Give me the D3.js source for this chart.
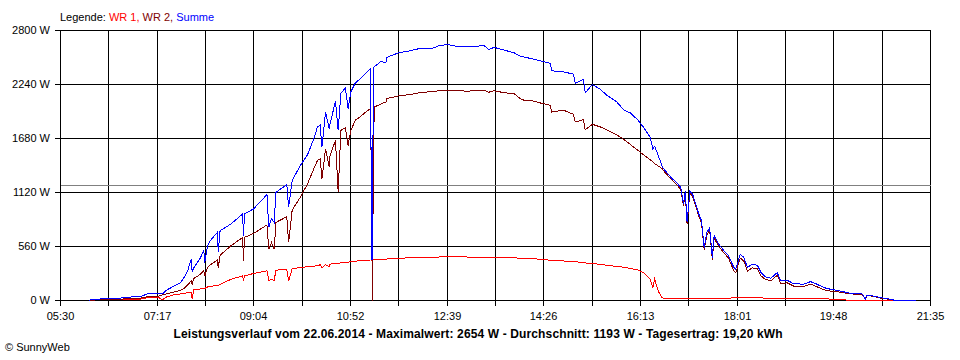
<!DOCTYPE html>
<html><head><meta charset="utf-8">
<script src="https://cdn.jsdelivr.net/npm/d3@7"></script>
<style>
html,body{margin:0;padding:0;background:#fff;}
svg{display:block;font-family:"Liberation Sans",Arial,sans-serif;}
</style></head><body>
<svg id="c" width="960" height="360"></svg>
<script>
// ---- data ----
const times = ["06:02","06:03","06:14","06:25","06:37","06:48","06:59","07:06","07:19","07:23","07:28","07:36","07:43","07:47","07:51","07:55","07:56","07:58","08:05","08:09","08:10","08:13","08:16","08:24","08:25","08:27","08:39","08:52","08:53","08:54","09:04","09:19","09:21","09:24","09:27","09:29","09:41","09:43","09:47","09:56","10:04","10:11","10:15","10:18","10:20","10:24","10:28","10:29","10:35","10:38","10:41","10:46","10:49","10:52","10:57","11:03","11:10","11:14","11:15","11:16","11:17","11:18","11:25","11:31","11:32","11:45","11:58","12:09","12:20","12:30","12:39","12:50","13:01","13:20","13:25","13:31","13:42","13:53","14:00","14:04","14:11","14:22","14:33","14:35","14:48","14:59","15:01","15:10","15:12","15:20","15:29","15:36","15:47","15:55","16:02","16:10","16:17","16:24","16:27","16:29","16:33","16:37","16:39","16:47","16:54","16:58","17:01","17:03","17:05","17:08","17:11","17:14","17:18","17:21","17:24","17:27","17:30","17:33","17:35","17:40","17:46","17:51","17:57","17:59","18:04","18:08","18:12","18:17","18:23","18:27","18:32","18:38","18:45","18:49","18:56","19:03","19:14","19:22","19:29","19:37","19:44","19:51","20:06","20:19","20:23","20:24","20:28","20:40","20:47","20:54","21:18","21:19"];
const wr1 = [0,3,8,10,12,14,15,28,30,8,38,60,68,75,80,82,20,110,120,128,125,140,145,160,158,165,220,255,200,255,280,307,210,215,210,314,325,203,331,341,350,356,362,370,340,372,350,377,385,380,394,398,395,404,408,412,418,420,420,420,420,422,425,428,430,439,442,446,448,451,453,452,451,450,449,448,445,442,439,437,435,428,418,416,410,404,402,392,390,383,375,365,354,345,331,318,285,221,133,221,99,29,25,20,19,19,19,19,19,19,19,19,19,19,19,19,19,19,19,19,19,19,33,33,33,33,33,33,33,30,22,22,22,22,22,22,22,22,22,18,15,8,4,3,2,3,3,2,2,1,0,0];
const wr2 = [0,2,8,10,14,22,25,38,45,58,70,88,105,125,160,205,170,230,270,310,250,340,370,420,340,470,567,654,411,654,695,783,533,600,533,810,869,602,939,1070,1210,1366,1452,1470,1262,1574,1382,1504,1660,1122,1764,1792,1608,1764,1869,1910,1965,1990,966,0,1380,2007,2035,2060,2094,2122,2136,2157,2165,2175,2181,2176,2171,2181,2160,2175,2155,2145,2094,2077,2077,2049,2025,1955,1973,1931,1851,1876,1772,1827,1799,1770,1718,1670,1619,1560,1510,1459,1440,1420,1395,1370,1345,1260,1195,1150,980,1118,790,1110,1085,995,875,805,528,684,730,424,650,562,492,440,303,288,440,408,303,338,328,255,218,205,262,176,183,150,143,170,143,110,97,93,68,65,10,48,48,25,16,4,4,0];
const summe = [0,5,16,20,26,36,40,68,75,68,110,150,185,238,307,429,300,342,439,520,394,567,619,706,500,723,793,897,671,897,949,1098,758,850,810,1122,1202,966,1244,1400,1511,1678,1799,1817,1591,1955,1782,1834,2066,1764,2147,2205,1990,2163,2257,2303,2371,2407,429,429,2410,2424,2476,2469,2521,2569,2590,2615,2608,2642,2654,2636,2632,2642,2604,2625,2597,2569,2535,2525,2511,2486,2459,2382,2371,2347,2251,2292,2153,2240,2188,2129,2059,1973,1945,1876,1792,1695,1574,1600,1504,1400,1366,1278,1216,1174,1001,1140,810,1133,1105,1018,897,828,550,706,752,446,671,585,515,463,341,325,481,446,341,377,366,289,245,231,289,203,210,175,169,196,169,133,117,106,75,71,12,54,54,29,19,5,4,0];
const yTicks = [0, 560, 1120, 1680, 2240, 2800];
const xTickLabels = ["05:30","07:17","09:04","10:52","12:39","14:26","16:13","18:01","19:48","21:35"];
const xStart = "05:30", xEnd = "21:35";
const average = 1193;
const legendLabel = "Legende: ";
const seriesNames = ["WR 1", "WR 2", "Summe"];
const seriesColors = ["#ff0000", "#800000", "#0000ff"];
const title = "Leistungsverlauf vom 22.06.2014 - Maximalwert: 2654 W - Durchschnitt: 1193 W - Tagesertrag: 19,20 kWh";
const copyright = "\u00A9 SunnyWeb";

// ---- chart ----
const toMin = t => { const [h, m] = t.split(":").map(Number); return h * 60 + m; };
const mins = times.map(toMin);
const svg = d3.select("#c");
const L = 60, R = 930, T = 30, B = 300;
const x = d3.scaleLinear().domain([toMin(xStart), toMin(xEnd)]).range([L, R]);
const y = d3.scaleLinear().domain([0, 2800]).range([B, T]);
const px = v => Math.round(v) + 0.5;

const g = svg.append("g").attr("shape-rendering", "crispEdges");
// vertical grid (18 intervals, labels every second)
const nInt = (xTickLabels.length - 1) * 2;
const gridMins = d3.range(nInt + 1).map(i => toMin(xStart) + i * (toMin(xEnd) - toMin(xStart)) / nInt);
gridMins.forEach((m, i) => {
  const xx = px(x(m));
  g.append("line").attr("x1", xx).attr("x2", xx).attr("y1", px(y(2800))).attr("y2", px(y(0)) + 5)
    .attr("stroke", "#000").attr("stroke-width", 1);
  if (i % 2 === 0) {
    svg.append("text").attr("x", xx).attr("y", 320).attr("text-anchor", "middle")
      .attr("font-size", 11).attr("fill", "#000").text(xTickLabels[i / 2]);
  }
});
// horizontal grid
yTicks.forEach(v => {
  const yy = px(y(v));
  g.append("line").attr("x1", L - 5).attr("x2", px(x(toMin(xEnd)))).attr("y1", yy).attr("y2", yy)
    .attr("stroke", "#000").attr("stroke-width", 1);
  svg.append("text").attr("x", 50).attr("y", yy).attr("dy", "0.35em").attr("text-anchor", "end")
    .attr("font-size", 11).attr("fill", "#000").text(v + " W");
});
// average line
g.append("line").attr("x1", px(L)).attr("x2", px(R)).attr("y1", px(y(average))).attr("y2", px(y(average)))
  .attr("stroke", "#808080").attr("stroke-width", 1);

// series
const line = d3.line().x((d, i) => x(mins[i]) + 0.5).y(d => y(d) + 0.5);
[wr1, wr2, summe].forEach((vals, k) => {
  svg.append("path").attr("d", line(vals)).attr("fill", "none")
    .attr("stroke", seriesColors[k]).attr("stroke-width", 1).attr("shape-rendering", "crispEdges");
});

// legend
const leg = svg.append("text").attr("x", 60).attr("y", 21).attr("font-size", 11);
leg.append("tspan").attr("fill", "#000").text(legendLabel);
seriesNames.forEach((n, k) => {
  leg.append("tspan").attr("fill", seriesColors[k]).text(n + (k < seriesNames.length - 1 ? ", " : ""));
});

// title & copyright
svg.append("text").attr("x", 478).attr("y", 338).attr("text-anchor", "middle")
  .attr("font-size", 12).attr("font-weight", "bold").attr("fill", "#000")
  .attr("textLength", 609).attr("lengthAdjust", "spacing").text(title);
svg.append("text").attr("x", 5).attr("y", 351).attr("font-size", 11).attr("fill", "#000").text(copyright);
</script>
</body></html>
